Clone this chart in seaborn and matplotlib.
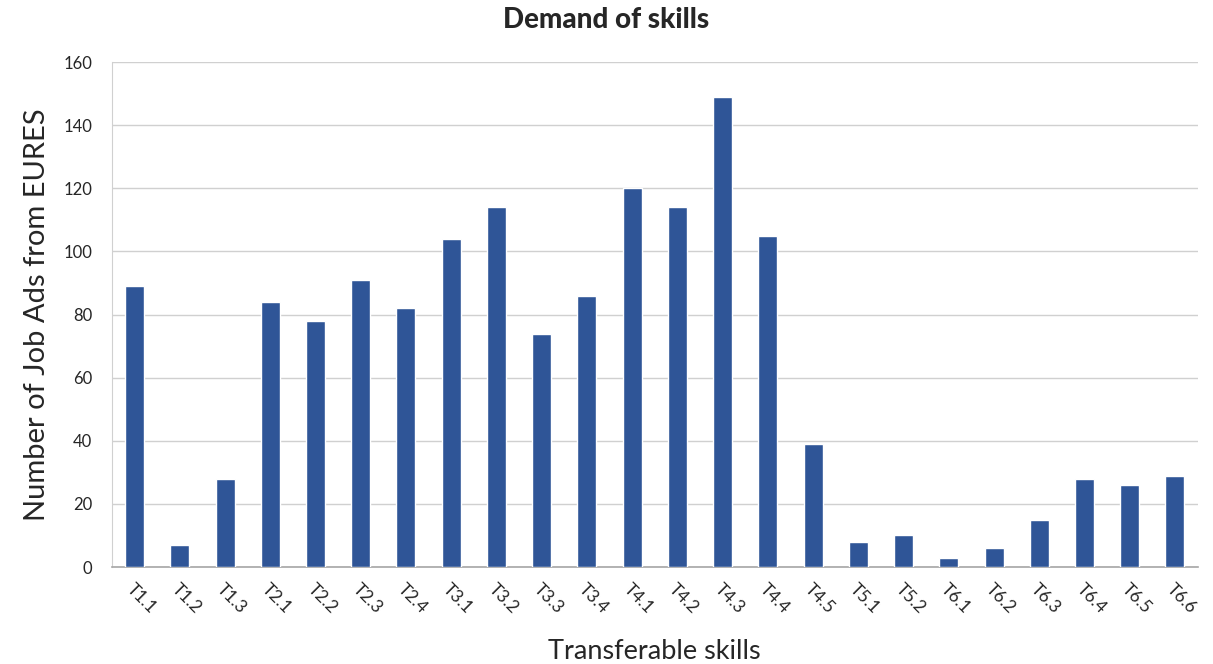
import numpy as np
import pandas as pd
import matplotlib.pyplot as plt
import seaborn as sns

skills = ['T1.1', 'T1.2', 'T1.3', 'T2.1', 'T2.2', 'T2.3', 'T2.4', 'T3.1', 'T3.2', 'T3.3',
          'T3.4', 'T4.1', 'T4.2', 'T4.3', 'T4.4', 'T4.5', 'T5.1', 'T5.2', 'T6.1', 'T6.2',
          'T6.3', 'T6.4', 'T6.5', 'T6.6']
job_ads = [89, 7, 28, 84, 78, 91, 82, 104, 114, 74,
           86, 120, 114, 149, 105, 39, 8, 10, 3, 6,
           15, 28, 26, 29]

df = pd.DataFrame({'Skill': skills, 'Ads': job_ads})

sns.set_style('white')
plt.rcParams['font.family'] = ['Lato', 'DejaVu Sans']

fig = plt.figure(figsize=(12.13, 6.64), dpi=100)
ax = fig.add_axes([0.0923, 0.146, 0.895, 0.7605])

sns.barplot(x='Skill', y='Ads', data=df, color='#2F5597', width=0.42, saturation=1, ax=ax, zorder=3)

ax.set_ylim(0, 160)
ax.set_yticks(range(0, 161, 20))
ax.set_xlim(-0.5, len(skills) - 0.5)
ax.grid(axis='y', color='#D0D0D0', linewidth=1, zorder=0)
ax.set_axisbelow(True)

for s in ['top', 'right']:
    ax.spines[s].set_visible(False)
ax.spines['left'].set_color('#D0D0D0')
ax.spines['bottom'].set_color('#A6A6A6')
ax.spines['bottom'].set_linewidth(1.2)

ax.tick_params(axis='y', labelsize=12, length=0, pad=14)
ax.tick_params(axis='x', labelsize=12.5, length=0, pad=10)
for lab in ax.get_xticklabels():
    lab.set_rotation(-45)
    lab.set_ha('left')
    lab.set_rotation_mode('anchor')

ax.set_xlabel('Transferable skills', fontsize=19.5, labelpad=16)
ax.set_ylabel('Number of Job Ads from EURES', fontsize=21, labelpad=10)
fig.suptitle('Demand of skills', fontsize=20, fontweight='black', y=0.99)

plt.savefig('out.png', dpi=100)
